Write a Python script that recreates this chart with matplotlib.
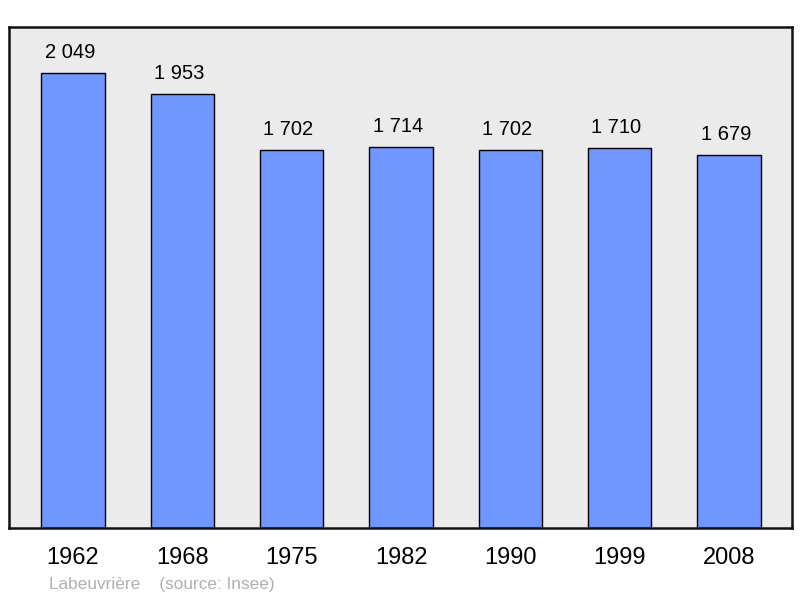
import matplotlib
matplotlib.use("Agg")
import matplotlib.pyplot as plt

years = ["1962", "1968", "1975", "1982", "1990", "1999", "2008"]
population = [2049, 1953, 1702, 1714, 1702, 1710, 1679]
value_labels = ["2 049", "1 953", "1 702", "1 714", "1 702", "1 710", "1 679"]

plt.rcParams['font.family'] = ['Liberation Sans', 'DejaVu Sans']

fig = plt.figure(figsize=(8, 5.98), dpi=100)
ax = fig.add_axes([9/800, 1-528/598, (792-9)/800, (528-27)/598])
ax.set_facecolor('#ebebeb')

x = list(range(len(years)))
ax.bar(x, population, width=0.58, color='#7097ff', edgecolor='black', linewidth=1.0, zorder=2)
for xi, v, lab in zip(x, population, value_labels):
    ax.text(xi - 0.03, v + 50, lab, ha='center', va='bottom', fontsize=14.5, color='black')

ax.set_xlim(-0.585, 6.575)
ax.set_ylim(0, 2256)
ax.set_yticks([])
ax.set_xticks(x)
ax.set_xticklabels(years, fontsize=17)
ax.tick_params(axis='x', length=0, pad=14)
for s in ax.spines.values():
    s.set_linewidth(1.8)
    s.set_color('#111111')

fig.text(49/800, 1-585/598, "Labeuvrière    (source: Insee)", fontsize=12.4, color='#b0b0b0', ha='left', va='center')

fig.savefig("out.png", dpi=100)
